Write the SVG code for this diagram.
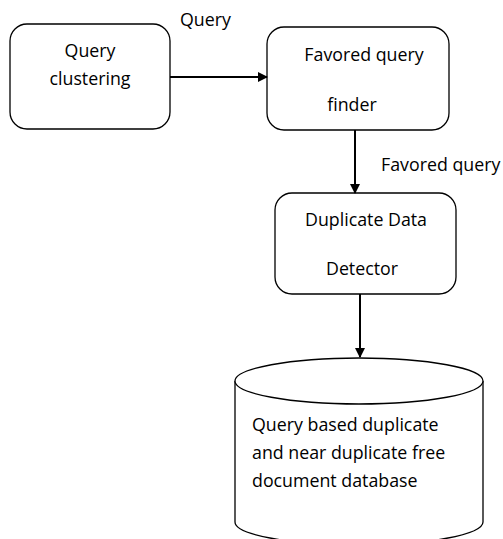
<svg xmlns="http://www.w3.org/2000/svg" width="503" height="539" viewBox="0 0 503 539">
  <style>
    .box { fill: #fff; stroke: #000; stroke-width: 1.3; }
    .edge { stroke: #000; stroke-width: 2; fill: none; }
    text { font-family: "Open Sans", "Liberation Sans", sans-serif; font-size: 17.8px; fill: #000; }
    .c { text-anchor: middle; }
  </style>
  <defs>
    <marker id="arrow" markerWidth="10" markerHeight="10" refX="9" refY="5" orient="auto" markerUnits="userSpaceOnUse">
      <path d="M0,0 L10,5 L0,10 Z" fill="#000"/>
    </marker>
  </defs>

  <g id="query-clustering">
    <rect class="box" x="10" y="24" width="160" height="105" rx="17" ry="17"/>
    <text class="c" x="90" y="57">Query</text>
    <text class="c" x="90" y="85">clustering</text>
  </g>

  <g id="favored-query-finder">
    <rect class="box" x="267" y="27" width="182" height="103" rx="17" ry="17"/>
    <text class="c" x="364" y="61">Favored query</text>
    <text class="c" x="352" y="111">finder</text>
  </g>

  <g id="duplicate-data-detector">
    <rect class="box" x="275" y="193" width="181" height="101" rx="17" ry="17"/>
    <text class="c" x="366" y="226">Duplicate Data</text>
    <text class="c" x="362" y="275">Detector</text>
  </g>

  <g id="document-database">
    <path class="box" d="M235,381 L235,522 A124,23 0 0 0 483,522 L483,381"/>
    <ellipse class="box" cx="359" cy="381" rx="124" ry="23"/>
    <text x="252" y="431">Query based duplicate</text>
    <text x="252" y="459">and near duplicate free</text>
    <text x="252" y="487">document database</text>
  </g>

  <g id="connectors">
    <line class="edge" x1="170" y1="77" x2="267" y2="77" marker-end="url(#arrow)"/>
    <text x="180" y="26">Query</text>
    <line class="edge" x1="355" y1="130" x2="355" y2="193" marker-end="url(#arrow)"/>
    <text x="381" y="171">Favored query</text>
    <line class="edge" x1="360" y1="294" x2="360" y2="357" marker-end="url(#arrow)"/>
  </g>
</svg>
